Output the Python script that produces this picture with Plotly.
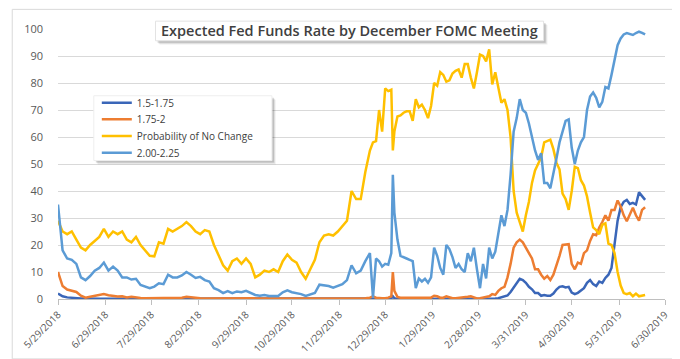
import plotly.graph_objects as go

# ---------------- data ----------------
dates = [
    "2018-05-29","2018-06-01","2018-06-04","2018-06-07","2018-06-10","2018-06-13","2018-06-16","2018-06-19","2018-06-22","2018-06-25","2018-06-28",
    "2018-07-01","2018-07-04","2018-07-07","2018-07-10","2018-07-13","2018-07-16","2018-07-19","2018-07-22","2018-07-25","2018-07-28","2018-07-31",
    "2018-08-03","2018-08-06","2018-08-09","2018-08-12","2018-08-15","2018-08-18","2018-08-21","2018-08-24","2018-08-27","2018-08-30",
    "2018-09-02","2018-09-05","2018-09-08","2018-09-11","2018-09-14","2018-09-17","2018-09-20","2018-09-23","2018-09-26","2018-09-29",
    "2018-10-02","2018-10-05","2018-10-08","2018-10-11","2018-10-14","2018-10-17","2018-10-20","2018-10-23","2018-10-26","2018-10-29",
    "2018-11-01","2018-11-04","2018-11-07","2018-11-10","2018-11-13","2018-11-16","2018-11-19","2018-11-22","2018-11-25","2018-11-28",
    "2018-12-01","2018-12-04","2018-12-07","2018-12-10","2018-12-13","2018-12-16","2018-12-19",
    "2018-12-21","2018-12-23","2018-12-25","2018-12-27","2018-12-29","2018-12-31",
    "2019-01-02","2019-01-03","2019-01-04","2019-01-06","2019-01-08","2019-01-10","2019-01-12","2019-01-14","2019-01-16","2019-01-18","2019-01-20","2019-01-22","2019-01-24","2019-01-26","2019-01-28","2019-01-30",
    "2019-02-01","2019-02-03","2019-02-05","2019-02-07","2019-02-09","2019-02-11","2019-02-13","2019-02-15","2019-02-17","2019-02-19","2019-02-21","2019-02-23","2019-02-25","2019-02-27",
    "2019-03-01","2019-03-03","2019-03-05","2019-03-07","2019-03-09","2019-03-11","2019-03-13","2019-03-15","2019-03-17","2019-03-19","2019-03-21","2019-03-23","2019-03-25","2019-03-27","2019-03-29","2019-03-31",
    "2019-04-02","2019-04-04","2019-04-06","2019-04-08","2019-04-10","2019-04-12","2019-04-14","2019-04-16","2019-04-18","2019-04-20","2019-04-22","2019-04-24","2019-04-26","2019-04-28","2019-04-30",
    "2019-05-02","2019-05-04","2019-05-06","2019-05-08","2019-05-10","2019-05-12","2019-05-14","2019-05-16","2019-05-18","2019-05-20","2019-05-22","2019-05-24","2019-05-26","2019-05-28","2019-05-30",
    "2019-06-01","2019-06-03","2019-06-05","2019-06-07","2019-06-09","2019-06-11","2019-06-13","2019-06-15","2019-06-17",
]

rate_150_175 = [
    2,1,0.6,0.4,0.3,0.2,0.2,0.1,0.1,0.1,0.1,
    0.1,0.1,0.1,0.1,0.1,0.1,0.1,0.1,0.1,0.1,0.1,
    0.1,0.1,0.1,0.1,0.1,0.1,0.1,0.1,0.1,0.1,
    0.1,0.1,0,0,0,0,0,0,0,0,
    0,0,0,0,0,0,0,0,0,0,
    0,0,0,0,0,0,0,0,0,0,
    0,0,0,0,0,0,0,
    0,0,0,0,0,0,
    0.2,1,0.3,0,0,0,0,0,0,0,0,0,0,0,0,0,
    0,0,0,0,0,0,0,0,0,0,0,0,0,0,
    0,0,0,0,0,0.2,0.3,0.7,1,1.3,2.6,4.3,5.5,7.5,7,6,
    4.5,3.6,2.2,2.2,1.2,1.5,1.2,1.2,2,3.5,4.5,4.7,4.3,4.5,2.4,
    1.8,2.3,3,4,6,7,5.5,4.8,6.5,6,7.8,9,11.5,20,29,
    34,36,36.7,35.2,35.6,35,39.5,38,36.7,
]

rate_175_2 = [
    10,4.8,3.5,3,2.6,1.2,0.5,0.8,1.2,1.6,1.8,
    1.4,1.2,0.9,1.0,0.6,0.8,0.5,0.4,0.3,0.3,0.3,
    0.4,0.3,0.3,0.4,0.5,0.5,0.8,0.6,0.3,0.3,
    0.2,0.2,0.2,0.2,0.1,0.2,0.2,0.1,0.2,0.1,
    0.1,0.2,0.1,0.1,0.2,0.1,0.1,0.1,0.2,0.1,
    0.1,0.2,0.2,0.1,0.1,0.2,0.1,0.1,0.2,0.1,
    0.2,0.2,0.3,0.2,0.2,0.3,0.5,
    1,0.5,0.3,0.3,0.3,0.5,
    1,10,3,0.8,0.5,0.5,0.3,0.3,0.3,0.5,0.3,0.3,0.5,0.5,0.5,1.2,
    1,0.5,0.5,1,0.6,0.3,0.3,0.4,0.5,0.5,0.8,1,0.6,0.2,
    0.3,0.5,0.8,1,1.8,1.5,3,4,4.5,8,13,19,21,22,21,19,
    17.5,15,11,11,9,7.5,8.5,7,9,13,16,20,20.2,20.3,13,
    11,13.5,13,17,18,21.5,24,23.6,26.5,28.5,31,29,33,33,36.5,
    34.3,31,28.8,31.5,33.8,31,29,33,34,
]

prob_no_change = [
    29,25,24,25,22,19,18,20,21.5,23,26,
    23,25,24,25,22,21,23,20,18,16,15.8,
    21,20.5,26,25,26,27,28.5,27,25,24,
    25.5,25,20,16.5,12.5,10.5,14,15,13,15,
    13,8,9,10.5,10,11,10,14,16.5,14.5,
    13.5,10,7.5,11,14.5,21,23.5,24,23.5,25,
    27,29,40,37,37,47,55,
    58,58.5,70,62,78,77,
    77.5,55,62,67.6,68,69,69.5,69.5,66,74,71,72,70,67,71.5,80,
    79,84,83,80.5,81,83.5,84.5,85,82,87,87,82,78,84,
    90.5,90,88,92.5,79.5,84,78,72.7,74,70,60,40,32,28,25,31,
    36,43,47.6,50,52.5,58,58.5,59,55.5,50.5,48,39,37,33,40,
    49,48.5,44,42,38,32,26.5,25.5,24,27.5,28,20.5,20,17,10,
    5,2.2,1.8,2.2,1,2,1,1.3,1.5,
]

rate_200_225 = [
    35,18,15,14.5,13,8,7,8.5,10.5,11.5,13.5,
    10.5,12,10.5,8,8,7.2,7.5,5.2,4.7,4,4.6,
    5.8,5.5,9,8,8,8.7,10,9,7.8,8.2,
    7,6.5,4,3.3,2.2,2.9,2.2,2.8,2.5,3,
    2.2,1.5,1.2,1.5,1.1,1.2,1.1,2.5,3.2,2.5,
    2.2,1.8,1.1,1.8,2.2,5.3,5,4.8,4.2,4.8,
    5.5,7,12.5,9.5,10.5,14,17,
    0.5,15,14,12,13,12.7,
    17,46,32,22,16,15.6,15,14.5,14,4,7.6,6.5,7.5,6,8,19,
    16,11.5,9,20,18.5,15.5,11.5,13,11,10,17,14,19,11,
    4,13,7.6,19,15,17.5,24,31,27,33,46,62,67,74,70,69,
    65,60,55,51.5,54,43,43,41,46,52,58,62,66,66.5,56,
    50,55,58,60,70,75,76.5,74.5,71,73,78.5,78,83,88,94,
    96.5,98,98.5,98,97.8,98.5,99,98.6,98,
]

series_names = ["1.5-1.75", "1.75-2", "Probability of No Change", "2.00-2.25"]
series_values = [rate_150_175, rate_175_2, prob_no_change, rate_200_225]
series_colors = ["#3A66B8", "#ED7D31", "#FFC000", "#5B9BD5"]

tick_dates = ["2018-05-29","2018-06-29","2018-07-29","2018-08-29","2018-09-29","2018-10-29",
              "2018-11-29","2018-12-29","2019-01-29","2019-02-28","2019-03-31","2019-04-30",
              "2019-05-31","2019-06-30"]
tick_labels = ["5/29/2018","6/29/2018","7/29/2018","8/29/2018","9/29/2018","10/29/2018",
               "11/29/2018","12/29/2018","1/29/2019","2/28/2019","3/31/2019","4/30/2019",
               "5/31/2019","6/30/2019"]

title_text = "Expected Fed Funds Rate by December FOMC Meeting"

for s in series_values:
    assert len(s) == len(dates), (len(s), len(dates))

# ---------------- figure ----------------
FONT = "Open Sans"
W, H = 680, 359
L, R, T, B = 47, 23, 21, 63
pw, ph = W - L - R, H - T - B

def px(x):
    return (x - L) / pw

def py(y):
    return (H - B - y) / ph

legend_ids = ["legend", "legend2", "legend3", "legend4"]
legend_rows = [96, 113, 130, 147]

fig = go.Figure()
for name, vals, col, lid in zip(series_names, series_values, series_colors, legend_ids):
    fig.add_trace(go.Scatter(x=dates, y=vals, mode="lines", name=name, legend=lid,
                             line=dict(color=col, width=2.5)))

shapes = []
# outer chart border
shapes.append(dict(type="rect", xref="paper", yref="paper", layer="below",
                   x0=px(1), x1=px(679), y0=py(357), y1=py(1),
                   line=dict(color="#d9d9d9", width=1), fillcolor="rgba(0,0,0,0)"))
# title box shadow + box
for off, a in [(4, 0.05), (3, 0.09), (2, 0.14)]:
    shapes.append(dict(type="rect", xref="paper", yref="paper", layer="above",
                       x0=px(145 + off), x1=px(535 + off), y0=py(33 + off), y1=py(13 + off),
                       line=dict(width=0), fillcolor=f"rgba(0,0,0,{a})"))
shapes.append(dict(type="rect", xref="paper", yref="paper", layer="above",
                   x0=px(145), x1=px(535), y0=py(33), y1=py(13),
                   line=dict(color="#e3e3e3", width=1), fillcolor="white"))
# legend box shadow + box
for off, a in [(4, 0.05), (3, 0.09), (2, 0.14)]:
    shapes.append(dict(type="rect", xref="paper", yref="paper", layer="above",
                       x0=px(83 + off), x1=px(262 + off), y0=py(155 + off), y1=py(89 + off),
                       line=dict(width=0), fillcolor=f"rgba(0,0,0,{a})"))
shapes.append(dict(type="rect", xref="paper", yref="paper", layer="above",
                   x0=px(83), x1=px(262), y0=py(155), y1=py(89),
                   line=dict(color="#eeeeee", width=1), fillcolor="white"))

legend_common = dict(xanchor="left", yanchor="middle", bgcolor="rgba(0,0,0,0)",
                     borderwidth=0, itemwidth=30,
                     font=dict(family=FONT, size=10, color="#404040"))
legend_layout = {}
for lid, row in zip(legend_ids, legend_rows):
    legend_layout[lid] = dict(x=px(86), y=py(row), **legend_common)

fig.update_layout(
    width=W, height=H,
    margin=dict(l=L, r=R, t=T, b=B),
    paper_bgcolor="white", plot_bgcolor="white",
    font=dict(family=FONT, color="#595959"),
    shapes=shapes,
    showlegend=True,
    annotations=[dict(text=title_text, xref="paper", yref="paper",
                      x=px(340), y=py(23), xanchor="center", yanchor="middle",
                      showarrow=False,
                      font=dict(family=FONT, size=14.5, color="#404040", weight=600))],
    xaxis=dict(type="date", range=["2018-05-29", "2019-06-30"],
               tickmode="array", tickvals=tick_dates, ticktext=tick_labels,
               tickangle=-45, showgrid=False, zeroline=False,
               showline=True, linecolor="#bfbfbf", linewidth=1,
               ticks="outside", ticklen=5, tickcolor="#bfbfbf",
               tickfont=dict(family=FONT, size=10, color="#595959")),
    yaxis=dict(range=[0, 100], tickmode="linear", tick0=0, dtick=10,
               showgrid=True, gridcolor="#d9d9d9", gridwidth=1,
               zeroline=False, showline=False, ticks="",
               ticklabelstandoff=14,
               tickfont=dict(family=FONT, size=11, color="#595959")),
    **legend_layout,
)

fig.write_html("out.html")
